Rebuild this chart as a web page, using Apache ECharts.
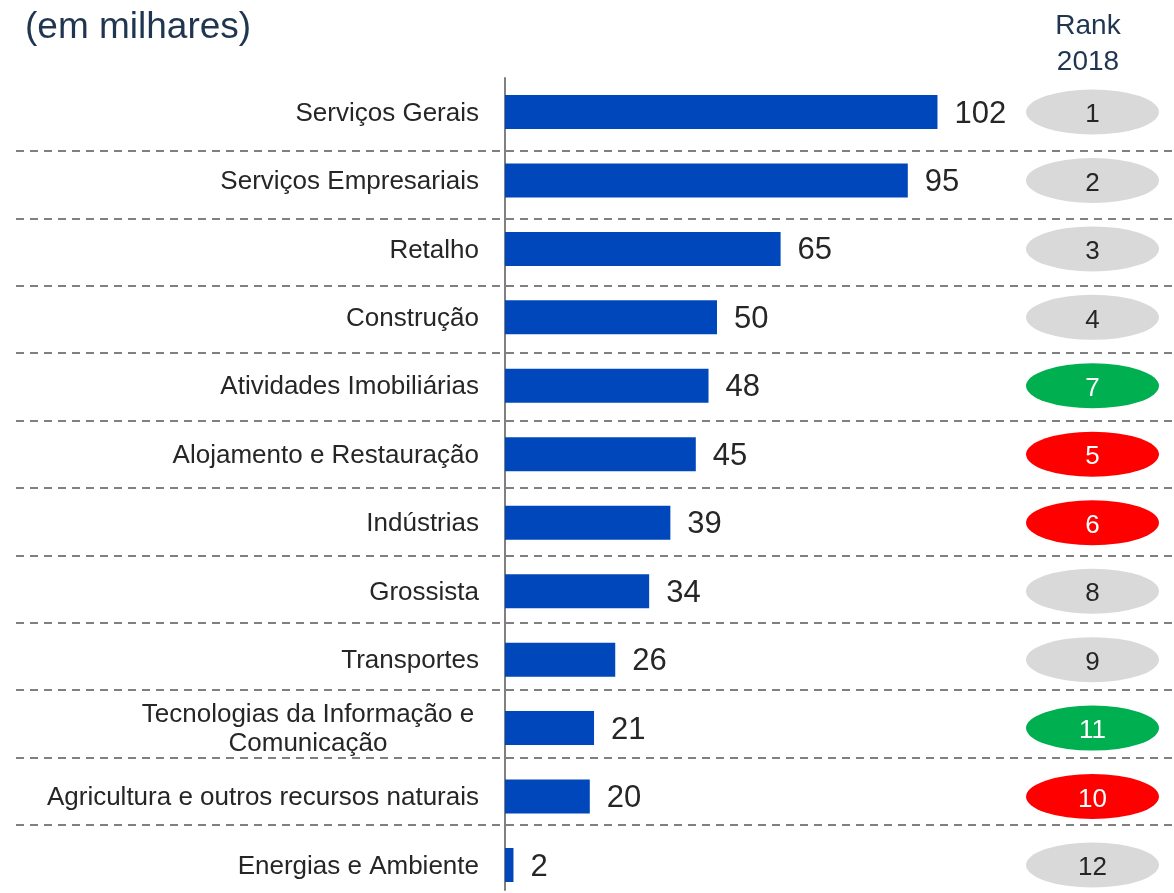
<!DOCTYPE html>
<html>
<head>
<meta charset="utf-8">
<script src="https://cdn.jsdelivr.net/npm/echarts@6/dist/echarts.min.js"></script>
<style>
    html, body { margin: 0; padding: 0; background: #fff; }
    #chart { width: 1174px; height: 893px; }
</style>
</head>
<body>
<div id="chart"></div>
<script>
// 数据
var categories = ['Serviços Gerais', 'Serviços Empresariais', 'Retalho', 'Construção', 'Atividades Imobiliárias',
    'Alojamento e Restauração', 'Indústrias', 'Grossista', 'Transportes',
    'Tecnologias da Informação e\nComunicação', 'Agricultura e outros recursos naturais', 'Energias e Ambiente'];
var values = [102, 95, 65, 50, 48, 45, 39, 34, 26, 21, 20, 2];
var rank2018 = [1, 2, 3, 4, 7, 5, 6, 8, 9, 11, 10, 12];

var font = '"Liberation Sans", Arial, sans-serif';

// rank color: better than now -> green, worse -> red, same -> grey
var rankData = rank2018.map(function (r, i) {
    var pos = i + 1;
    var bg = '#D9D9D9', fg = '#262626';
    if (r > pos) { bg = '#00B050'; fg = '#FFFFFF'; }
    if (r < pos) { bg = '#FF0000'; fg = '#FFFFFF'; }
    return {
        value: [0.5, i],
        itemStyle: { color: bg, opacity: 1 },
        label: { color: fg }
    };
});

var myChart = echarts.init(document.getElementById('chart'));

var option = {
    animation: false,
    title: [{
        text: '(em milhares)',
        left: 20,
        top: 4,
        textStyle: { fontFamily: font, fontSize: 37, fontWeight: 'normal', color: '#1F3550' }
    }, {
        text: 'Rank\n2018',
        left: 1083,
        top: 3,
        textAlign: 'center',
        textStyle: { fontFamily: font, fontSize: 28, fontWeight: 'normal', color: '#1F3550', lineHeight: 36 }
    }],
    grid: [
        /*柱状图: 首末类目中心*/
        { left: 505, top: 112, width: 636, height: 753 },
        /*虚线*/
        { left: 16, right: 0, top: 151, height: 674 },
        /*排名*/
        { left: 1026, width: 133, top: 112, height: 753 },
        /*纵轴线*/
        { left: 505, width: 10, top: 78, height: 812 }
    ],
    xAxis: [{
        gridIndex: 0,
        type: 'value',
        min: 0,
        max: 150,
        show: false
    }, {
        gridIndex: 1,
        type: 'value',
        min: 0,
        max: 1,
        show: false
    }, {
        gridIndex: 2,
        type: 'value',
        min: 0,
        max: 1,
        show: false
    }, {
        gridIndex: 3,
        type: 'value',
        min: 0,
        max: 1,
        show: false
    }],
    yAxis: [{
        gridIndex: 0,
        type: 'category',
        inverse: true,
        boundaryGap: false,
        data: categories,
        axisLine: { show: false },
        axisTick: { show: false },
        splitLine: { show: false },
        axisLabel: {
            margin: 26,
            fontFamily: font,
            fontSize: 26,
            color: '#262626',
            lineHeight: 29,
            padding: [3, 0, 0, 0],
            formatter: function (v) {
                if (v.indexOf('\n') > -1) {
                    return v.split('\n').map(function (s) { return '{c|' + s + '}'; }).join('\n');
                }
                return v;
            },
            rich: {
                c: { width: 342, align: 'center', fontFamily: font, fontSize: 26, color: '#262626', lineHeight: 29 }
            }
        }
    }, {
        gridIndex: 1,
        type: 'value',
        min: 1,
        max: 11,
        interval: 1,
        inverse: true,
        axisLine: { show: false },
        axisTick: { show: false },
        axisLabel: { show: false },
        splitLine: {
            show: true,
            lineStyle: { color: '#808080', width: 2, type: [8, 6] }
        }
    }, {
        gridIndex: 2,
        type: 'category',
        inverse: true,
        boundaryGap: false,
        data: categories,
        show: false
    }, {
        gridIndex: 3,
        type: 'value',
        min: 0,
        max: 1,
        axisLine: { show: true, lineStyle: { color: '#808080', width: 2 } },
        axisTick: { show: false },
        axisLabel: { show: false },
        splitLine: { show: false }
    }],
    series: [{
        type: 'bar',
        xAxisIndex: 0,
        yAxisIndex: 0,
        data: values,
        barWidth: 34,
        itemStyle: { color: '#0047BB' },
        label: {
            show: true,
            position: 'right',
            distance: 17,
            offset: [0, 2],
            fontFamily: font,
            fontSize: 31,
            color: '#262626'
        }
    }, {
        type: 'scatter',
        xAxisIndex: 2,
        yAxisIndex: 2,
        symbol: 'circle',
        symbolSize: [133, 45],
        data: rankData,
        label: {
            show: true,
            position: 'inside',
            offset: [0, 3],
            fontFamily: font,
            fontSize: 26,
            formatter: function (p) { return rank2018[p.dataIndex]; }
        }
    }]
};

myChart.setOption(option);
</script>
</body>
</html>
